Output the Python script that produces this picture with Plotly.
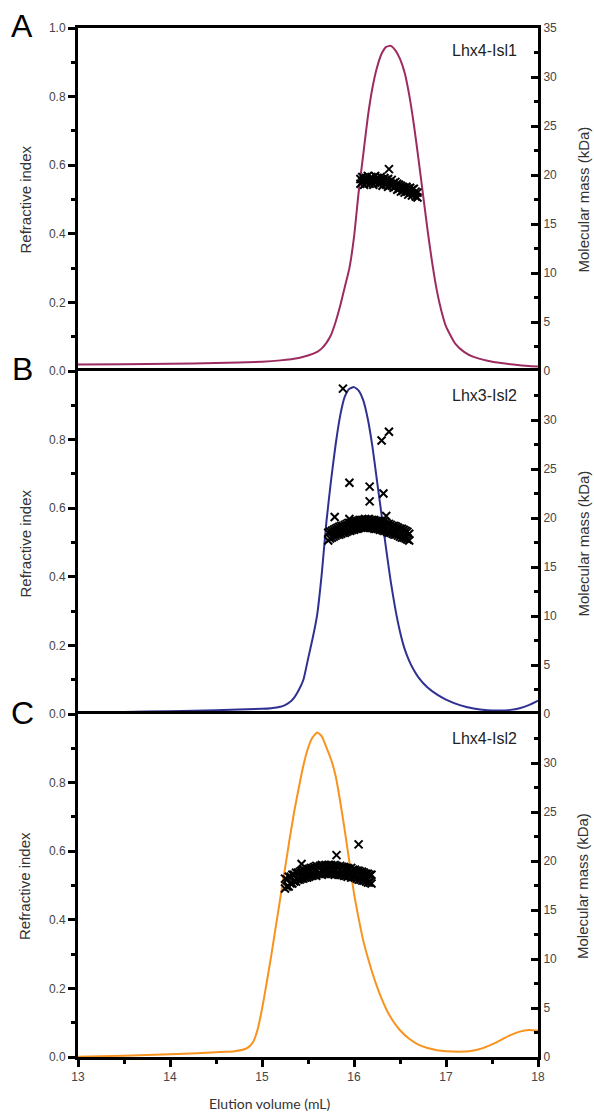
import plotly.graph_objects as go

# ---------------- data ----------------
# Refractive index traces (elution volume mL, RI)
A_ri_x = [13.0, 13.5, 14.0, 14.5, 15.0, 15.2, 15.4, 15.5, 15.6, 15.65, 15.7, 15.75, 15.8, 15.85, 15.9, 15.95,
          16.0, 16.05, 16.1, 16.15, 16.2, 16.25, 16.3, 16.35, 16.4, 16.45, 16.5, 16.55, 16.6, 16.65, 16.7,
          16.75, 16.8, 16.85, 16.9, 16.95, 17.0, 17.1, 17.2, 17.3, 17.45, 17.6, 17.8, 18.0]
A_ri_y = [0.019, 0.020, 0.021, 0.023, 0.027, 0.031, 0.038, 0.045, 0.056, 0.066, 0.082, 0.105, 0.143, 0.19,
          0.245, 0.30, 0.39, 0.52, 0.63, 0.74, 0.825, 0.885, 0.925, 0.945, 0.948, 0.935, 0.91, 0.87, 0.805,
          0.72, 0.62, 0.515, 0.41, 0.315, 0.235, 0.175, 0.13, 0.08, 0.055, 0.041, 0.03, 0.023, 0.017, 0.013]

B_ri_x = [13.0, 13.5, 14.0, 14.5, 15.0, 15.1, 15.2, 15.25, 15.3, 15.35, 15.4, 15.45, 15.5, 15.55, 15.6, 15.65,
          15.7, 15.75, 15.8, 15.85, 15.9, 15.95, 16.0, 16.05, 16.1, 16.15, 16.2, 16.25, 16.3, 16.35, 16.4,
          16.45, 16.5, 16.55, 16.6, 16.65, 16.7, 16.8, 16.9, 17.0, 17.15, 17.3, 17.45, 17.6, 17.7, 17.8,
          17.9, 18.0]
B_ri_y = [0.005, 0.006, 0.008, 0.011, 0.015, 0.017, 0.021, 0.026, 0.034, 0.048, 0.07, 0.10, 0.16, 0.22,
          0.29, 0.41, 0.56, 0.68, 0.785, 0.87, 0.925, 0.948, 0.953, 0.943, 0.915, 0.86, 0.78, 0.68, 0.58,
          0.48, 0.385, 0.305, 0.24, 0.19, 0.155, 0.128, 0.107, 0.077, 0.057, 0.042, 0.026, 0.016, 0.011,
          0.010, 0.012, 0.017, 0.026, 0.039]

C_ri_x = [13.0, 13.5, 14.0, 14.3, 14.6, 14.7, 14.8, 14.85, 14.9, 14.95, 15.0, 15.05, 15.1, 15.15, 15.2, 15.25,
          15.3, 15.35, 15.4, 15.45, 15.5, 15.55, 15.6, 15.65, 15.7, 15.75, 15.8, 15.85, 15.9, 15.95, 16.0,
          16.05, 16.1, 16.15, 16.2, 16.25, 16.3, 16.35, 16.4, 16.45, 16.5, 16.6, 16.7, 16.8, 16.9, 17.0,
          17.2, 17.3, 17.4, 17.5, 17.6, 17.7, 17.8, 17.9, 18.0]
C_ri_y = [0.001, 0.004, 0.008, 0.011, 0.015, 0.017, 0.022, 0.028, 0.042, 0.078, 0.14, 0.215, 0.295, 0.38,
          0.465, 0.55, 0.635, 0.715, 0.785, 0.85, 0.9, 0.932, 0.946, 0.935, 0.903, 0.868, 0.82, 0.745, 0.66,
          0.568, 0.477, 0.405, 0.34, 0.29, 0.245, 0.205, 0.17, 0.14, 0.115, 0.095, 0.078, 0.053, 0.036,
          0.026, 0.02, 0.017, 0.016, 0.019, 0.026, 0.037, 0.05, 0.064, 0.074, 0.079, 0.077]

# Molecular mass points (elution volume mL, kDa)
A_mm_x = [16.07, 16.09, 16.11, 16.13, 16.15, 16.17, 16.19, 16.21, 16.23, 16.25, 16.27, 16.29, 16.31, 16.33,
          16.35, 16.37, 16.39, 16.41, 16.43, 16.45, 16.47, 16.49, 16.51, 16.53, 16.55, 16.57, 16.59, 16.61,
          16.63, 16.65, 16.67, 16.69]
A_mm_hi = [19.6, 19.8, 19.5, 19.7, 19.9, 19.6, 19.8, 19.5, 19.9, 19.7, 19.6, 19.8, 19.5, 19.7, 19.5, 19.6,
           19.3, 19.5, 19.2, 19.3, 19.1, 19.0, 18.9, 18.8, 18.7, 18.8, 18.6, 18.7, 18.5, 18.6, 18.3, 18.2]
A_mm_lo = [19.1, 19.3, 19.0, 19.2, 19.4, 19.1, 19.3, 19.0, 19.2, 19.4, 19.1, 19.3, 18.9, 19.2, 19.0, 18.8,
           19.0, 18.9, 18.7, 18.8, 18.5, 18.6, 18.3, 18.4, 18.2, 18.3, 18.0, 18.2, 17.9, 18.1, 17.8, 17.7]
A_out_x = [16.38]
A_out_y = [20.6]

B_mm_x = [15.72, 15.74, 15.76, 15.78, 15.80, 15.82, 15.84, 15.86, 15.88, 15.90, 15.92, 15.94, 15.96, 15.98,
          16.00, 16.02, 16.04, 16.06, 16.08, 16.10, 16.12, 16.14, 16.16, 16.18, 16.20, 16.22, 16.24, 16.26,
          16.28, 16.30, 16.32, 16.34, 16.36, 16.38, 16.40, 16.42, 16.44, 16.46, 16.48, 16.50, 16.52, 16.54,
          16.56, 16.58, 16.60]
B_mm_hi = [18.5, 18.6, 18.7, 18.8, 18.9, 19.0, 19.1, 19.2, 19.2, 19.3, 19.4, 19.5, 19.5, 19.6, 19.6, 19.7,
           19.7, 19.8, 19.8, 19.8, 19.9, 19.8, 19.9, 19.8, 19.8, 19.8, 19.7, 19.7, 19.7, 19.6, 19.6, 19.5,
           19.4, 19.4, 19.3, 19.2, 19.2, 19.1, 19.0, 18.9, 18.9, 18.8, 18.7, 18.6, 18.4]
B_mm_lo = [17.7, 17.9, 18.0, 18.1, 18.2, 18.3, 18.3, 18.4, 18.5, 18.5, 18.6, 18.7, 18.7, 18.8, 18.8, 18.9,
           18.9, 19.0, 19.0, 19.0, 19.0, 19.1, 19.1, 19.0, 19.0, 18.9, 18.9, 18.9, 18.8, 18.8, 18.7, 18.7,
           18.6, 18.5, 18.5, 18.4, 18.3, 18.3, 18.2, 18.1, 18.0, 18.0, 17.9, 17.8, 17.7]
B_out_x = [15.88, 15.95, 15.79, 15.95, 16.17, 16.17, 16.32, 16.30, 16.38, 16.35]
B_out_y = [33.2, 23.6, 20.1, 19.9, 23.2, 21.7, 22.5, 27.9, 28.8, 20.2]

C_mm_x = [15.25, 15.27, 15.29, 15.31, 15.33, 15.35, 15.37, 15.39, 15.41, 15.43, 15.45, 15.47, 15.49, 15.51,
          15.53, 15.55, 15.57, 15.59, 15.61, 15.63, 15.65, 15.67, 15.69, 15.71, 15.73, 15.75, 15.77, 15.79,
          15.81, 15.83, 15.85, 15.87, 15.89, 15.91, 15.93, 15.95, 15.97, 15.99, 16.01, 16.03, 16.05, 16.07,
          16.09, 16.11, 16.13, 16.15, 16.17, 16.19]
C_mm_hi = [18.2, 18.1, 18.4, 18.4, 18.6, 18.6, 18.8, 18.8, 18.9, 19.0, 19.1, 19.0, 19.2, 19.2, 19.3, 19.3,
           19.4, 19.5, 19.4, 19.5, 19.6, 19.5, 19.6, 19.5, 19.6, 19.6, 19.5, 19.6, 19.5, 19.4, 19.5, 19.4,
           19.4, 19.3, 19.3, 19.2, 19.3, 19.1, 19.1, 19.0, 19.0, 18.9, 18.9, 18.8, 18.7, 18.7, 18.6, 18.6]
C_mm_lo = [17.2, 17.4, 17.4, 17.7, 17.7, 17.9, 17.9, 18.1, 18.1, 18.2, 18.2, 18.3, 18.3, 18.4, 18.5, 18.5,
           18.6, 18.5, 18.7, 18.7, 18.6, 18.8, 18.7, 18.8, 18.7, 18.7, 18.7, 18.6, 18.7, 18.6, 18.6, 18.6,
           18.5, 18.5, 18.4, 18.5, 18.3, 18.4, 18.3, 18.2, 18.1, 18.1, 18.0, 18.0, 17.9, 17.8, 17.8, 17.7]
C_out_x = [16.05, 15.81, 15.43]
C_out_y = [21.7, 20.6, 19.7]

panel_letters = ["A", "B", "C"]
panel_names = ["Lhx4-Isl1", "Lhx3-Isl2", "Lhx4-Isl2"]
line_colors = ["#9C2B60", "#2E3192", "#F7931E"]
x_ticks = [13, 14, 15, 16, 17, 18]
ri_ticks_top = [0.0, 0.2, 0.4, 0.6, 0.8, 1.0]
ri_ticks = [0.0, 0.2, 0.4, 0.6, 0.8]
mm_ticks_top = [0, 5, 10, 15, 20, 25, 30, 35]
mm_ticks = [0, 5, 10, 15, 20, 25, 30]

# ---------------- figure ----------------
W, H = 594, 1117
ML, MR, MT, MB = 78, 56, 28, 60
plot_w = W - ML - MR
plot_h = H - MT - MB

fig = go.Figure()

ri_sets = [(A_ri_x, A_ri_y), (B_ri_x, B_ri_y), (C_ri_x, C_ri_y)]
mm_sets = [(A_mm_x, A_mm_hi, A_mm_lo, A_out_x, A_out_y),
           (B_mm_x, B_mm_hi, B_mm_lo, B_out_x, B_out_y),
           (C_mm_x, C_mm_hi, C_mm_lo, C_out_x, C_out_y)]

tick_font = dict(family="Liberation Sans, Arial, sans-serif", size=12, color="#444444")
line_w = 3

for i in range(3):
    xa = "x" if i == 0 else f"x{i + 1}"
    yl = "y" if i == 0 else f"y{2 * i + 1}"
    yr = f"y{2 * i + 2}"
    rx, ry = ri_sets[i]
    fig.add_trace(go.Scatter(x=rx, y=ry, mode="lines", xaxis=xa, yaxis=yl,
                             line=dict(color=line_colors[i], width=2, shape="spline", smoothing=0.5),
                             showlegend=False, hoverinfo="skip"))
    mx, mhi, mlo, ox, oy = mm_sets[i]
    px = list(mx) + list(mx) + list(ox)
    py = list(mhi) + list(mlo) + list(oy)
    fig.add_trace(go.Scatter(x=px, y=py, mode="markers", xaxis=xa, yaxis=yr,
                             marker=dict(symbol="x-thin", size=8, color="black",
                                         line=dict(width=2, color="black")),
                             showlegend=False, hoverinfo="skip"))

layout = dict(width=W, height=H, margin=dict(l=ML, r=MR, t=MT, b=MB),
              paper_bgcolor="white", plot_bgcolor="white", showlegend=False)

domains = [[2 / 3, 1.0], [1 / 3, 2 / 3], [0.0, 1 / 3]]
for i in range(3):
    xkey = "xaxis" if i == 0 else f"xaxis{i + 1}"
    ylkey = "yaxis" if i == 0 else f"yaxis{2 * i + 1}"
    yrkey = f"yaxis{2 * i + 2}"
    yl_name = "y" if i == 0 else f"y{2 * i + 1}"
    xa_name = "x" if i == 0 else f"x{i + 1}"
    xcfg = dict(range=[13, 18], domain=[0, 1], anchor=yl_name, showline=True, linewidth=line_w,
                linecolor="black", showgrid=False, zeroline=False, fixedrange=True)
    if i == 2:
        xcfg.update(mirror=True, tickvals=x_ticks, ticktext=[str(v) for v in x_ticks], ticks="outside",
                    ticklen=7, tickwidth=line_w, tickcolor="black", tickfont=tick_font,
                    minor=dict(ticks="outside", dtick=0.5, ticklen=4, tickwidth=line_w, tickcolor="black"))
    else:
        xcfg.update(side="top", ticks="", showticklabels=False, matches="x3")
    layout[xkey] = xcfg

    rt = ri_ticks_top if i == 0 else ri_ticks
    layout[ylkey] = dict(domain=domains[i], range=[0, 1], anchor=xa_name, showline=True,
                         linewidth=line_w, linecolor="black", showgrid=False, zeroline=False,
                         tickvals=rt, ticktext=[f"{v:.1f}" for v in rt], ticks="outside",
                         ticklen=7, tickwidth=line_w, tickcolor="black", tickfont=tick_font,
                         minor=dict(ticks="outside", dtick=0.1, ticklen=4, tickwidth=line_w,
                                    tickcolor="black"), fixedrange=True)
    mt = mm_ticks_top if i == 0 else mm_ticks
    layout[yrkey] = dict(overlaying=yl_name, side="right", anchor=xa_name, range=[0, 35],
                         showline=True, linewidth=line_w, linecolor="black", showgrid=False,
                         zeroline=False, tickvals=mt, ticktext=[str(v) for v in mt], ticks="inside",
                         ticklen=7, tickwidth=line_w, tickcolor="black", tickfont=tick_font,
                         minor=dict(ticks="inside", dtick=2.5, ticklen=4, tickwidth=line_w,
                                    tickcolor="black"), fixedrange=True)

fig.update_layout(**layout)


def px_x(p):
    return (p - ML) / plot_w


def px_y(p):
    return (H - MB - p) / plot_h


ann = []
panel_tops = [28, 372, 715]
panel_mid = [199.5, 543.5, 886]
letter_y = [26, 369, 713]
for i in range(3):
    ann.append(dict(text=panel_letters[i], x=px_x(22), y=px_y(letter_y[i]), xref="paper", yref="paper",
                    xanchor="center", yanchor="middle", showarrow=False,
                    font=dict(family="Liberation Sans, Arial, sans-serif", size=32, color="black")))
    ann.append(dict(text=panel_names[i], x=px_x(519), y=px_y(panel_tops[i] + 23), xref="paper",
                    yref="paper", xanchor="right", yanchor="middle", showarrow=False,
                    font=dict(family="Liberation Sans, Arial, sans-serif", size=16, color="#222222")))
    ann.append(dict(text="Refractive index", x=px_x(25), y=px_y(panel_mid[i]), xref="paper",
                    yref="paper", xanchor="center", yanchor="middle", textangle=-90, showarrow=False,
                    font=dict(family="Liberation Sans, Arial, sans-serif", size=15, color="#333333")))
    ann.append(dict(text="Molecular mass (kDa)", x=px_x(583), y=px_y(panel_mid[i]), xref="paper",
                    yref="paper", xanchor="center", yanchor="middle", textangle=-90, showarrow=False,
                    font=dict(family="Liberation Sans, Arial, sans-serif", size=15, color="#333333")))
ann.append(dict(text="Elution volume (mL)", x=px_x(270), y=px_y(1103), xref="paper", yref="paper",
                xanchor="center", yanchor="middle", showarrow=False,
                font=dict(family="Lato, Noto Sans, sans-serif", size=14, color="#333333")))
fig.update_layout(annotations=ann)

fig.write_html("out.html", config={"displayModeBar": False},
               post_script="document.body.style.margin='0';document.body.style.overflow='hidden';")
